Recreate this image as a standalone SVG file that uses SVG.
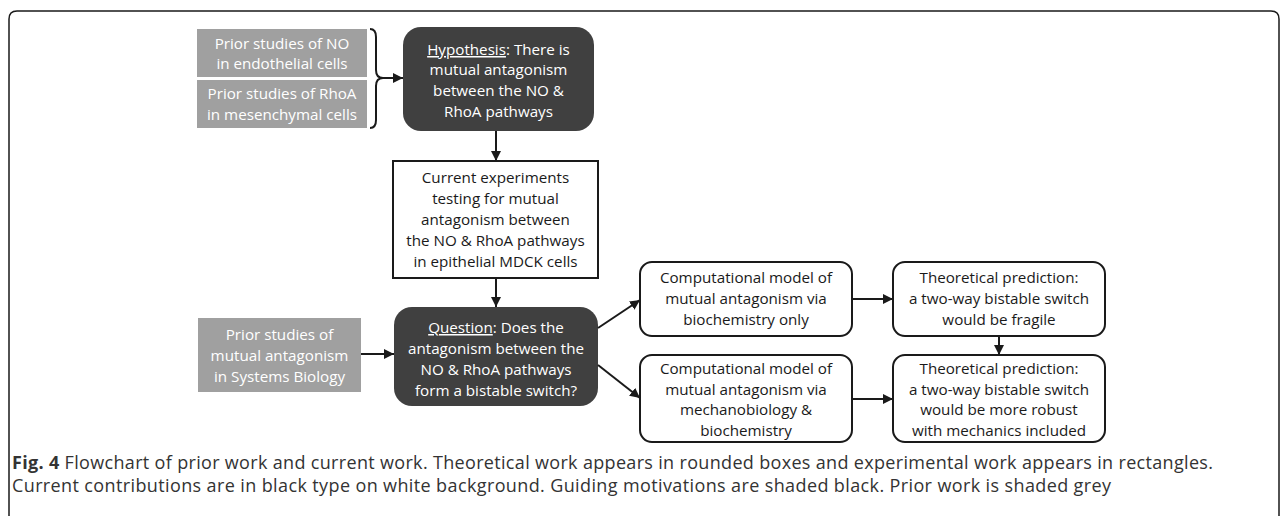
<svg xmlns="http://www.w3.org/2000/svg" width="1288" height="516" viewBox="0 0 1288 516">
<style>
.t{font-family:"Open Sans",Lato,"Liberation Sans",sans-serif;font-size:15.2px;text-anchor:middle}
.w{fill:#ffffff}
.k{fill:#1a1a1a}
.grey{fill:#a0a0a0}
.dark{fill:#404040}
.theo{fill:#ffffff;stroke:#1a1a1a;stroke-width:2}
.exp{fill:#ffffff;stroke:#1a1a1a;stroke-width:2}
.c{fill:none;stroke:#1a1a1a;stroke-width:2}
.u{text-decoration:underline}
.cap{font-family:"Open Sans",Lato,"Liberation Sans",sans-serif;font-size:18px;fill:#333333}
</style>
<defs>
<marker id="ah" viewBox="0 0 10 10" refX="10" refY="5" markerWidth="5" markerHeight="5" orient="auto" markerUnits="strokeWidth">
<path d="M0,0 L10,5 L0,10 z" fill="#1a1a1a"/>
</marker>
</defs>
<path d="M9,530 V19 Q9,11 17,11 H1271 Q1279,11 1279,19 V530" fill="none" stroke="#1a1a1a" stroke-width="1.5"/>
<g id="prior-no">
<rect class="grey" x="197" y="29" width="170" height="48"/>
<text class="t w" x="282" y="49">Prior studies of NO</text>
<text class="t w" x="282" y="69">in endothelial cells</text>
</g>
<g id="prior-rhoa">
<rect class="grey" x="197" y="80" width="170" height="48"/>
<text class="t w" x="282" y="99">Prior studies of RhoA</text>
<text class="t w" x="282" y="120">in mesenchymal cells</text>
</g>
<g id="hypothesis">
<rect class="dark" x="403" y="27" width="191" height="104" rx="18"/>
<text class="t w" x="498.5" y="55"><tspan class="u">Hypothesis</tspan>: There is</text>
<text class="t w" x="498.5" y="75">mutual antagonism</text>
<text class="t w" x="498.5" y="96">between the NO &amp;</text>
<text class="t w" x="498.5" y="117">RhoA pathways</text>
</g>
<g id="current">
<rect class="exp" x="393" y="161" width="205" height="117"/>
<text class="t k" x="495.5" y="183">Current experiments</text>
<text class="t k" x="495.5" y="204">testing for mutual</text>
<text class="t k" x="495.5" y="225">antagonism between</text>
<text class="t k" x="495.5" y="246">the NO &amp; RhoA pathways</text>
<text class="t k" x="495.5" y="267">in epithelial MDCK cells</text>
</g>
<g id="prior-sys">
<rect class="grey" x="198" y="318" width="163" height="74"/>
<text class="t w" x="279.5" y="340">Prior studies of</text>
<text class="t w" x="279.5" y="361">mutual antagonism</text>
<text class="t w" x="279.5" y="382">in Systems Biology</text>
</g>
<g id="question">
<rect class="dark" x="394" y="307" width="204" height="99" rx="18"/>
<text class="t w" x="496" y="333"><tspan class="u">Question</tspan>: Does the</text>
<text class="t w" x="496" y="354">antagonism between the</text>
<text class="t w" x="496" y="375">NO &amp; RhoA pathways</text>
<text class="t w" x="496" y="396">form a bistable switch?</text>
</g>
<g id="model-bio">
<rect class="theo" x="640" y="262" width="212" height="74" rx="12"/>
<text class="t k" x="746" y="283">Computational model of</text>
<text class="t k" x="746" y="304">mutual antagonism via</text>
<text class="t k" x="746" y="325">biochemistry only</text>
</g>
<g id="model-mech">
<rect class="theo" x="640" y="355" width="212" height="87" rx="12"/>
<text class="t k" x="746" y="374">Computational model of</text>
<text class="t k" x="746" y="394.5">mutual antagonism via</text>
<text class="t k" x="746" y="415">mechanobiology &amp;</text>
<text class="t k" x="746" y="435.5">biochemistry</text>
</g>
<g id="pred-fragile">
<rect class="theo" x="893" y="262" width="212" height="74" rx="12"/>
<text class="t k" x="999" y="283">Theoretical prediction:</text>
<text class="t k" x="999" y="304">a two-way bistable switch</text>
<text class="t k" x="999" y="325">would be fragile</text>
</g>
<g id="pred-robust">
<rect class="theo" x="893" y="355" width="212" height="87" rx="12"/>
<text class="t k" x="999" y="374">Theoretical prediction:</text>
<text class="t k" x="999" y="394.5">a two-way bistable switch</text>
<text class="t k" x="999" y="415">would be more robust</text>
<text class="t k" x="999" y="435.5">with mechanics included</text>
</g>
<g id="connectors">
<path class="c" d="M370,29 Q376,29 376,37 V70 Q376,78 383,78 Q376,78 376,86 V120 Q376,128 370,128"/>
<path class="c" d="M383,78 H403" marker-end="url(#ah)"/>
<path class="c" d="M496,131 V161" marker-end="url(#ah)"/>
<path class="c" d="M496,278 V307" marker-end="url(#ah)"/>
<path class="c" d="M361,354 H394" marker-end="url(#ah)"/>
<path class="c" d="M598,328 L640,300" marker-end="url(#ah)"/>
<path class="c" d="M598,365 L640,398" marker-end="url(#ah)"/>
<path class="c" d="M852,299 H893" marker-end="url(#ah)"/>
<path class="c" d="M852,399 H893" marker-end="url(#ah)"/>
<path class="c" d="M999,336 V355" marker-end="url(#ah)"/>
</g>
<g id="caption">
<text class="cap" x="12" y="469" textLength="1201" lengthAdjust="spacing"><tspan font-weight="bold">Fig. 4</tspan> Flowchart of prior work and current work. Theoretical work appears in rounded boxes and experimental work appears in rectangles.</text>
<text class="cap" x="12" y="492" textLength="1099" lengthAdjust="spacing">Current contributions are in black type on white background. Guiding motivations are shaded black. Prior work is shaded grey</text>
</g>
</svg>
